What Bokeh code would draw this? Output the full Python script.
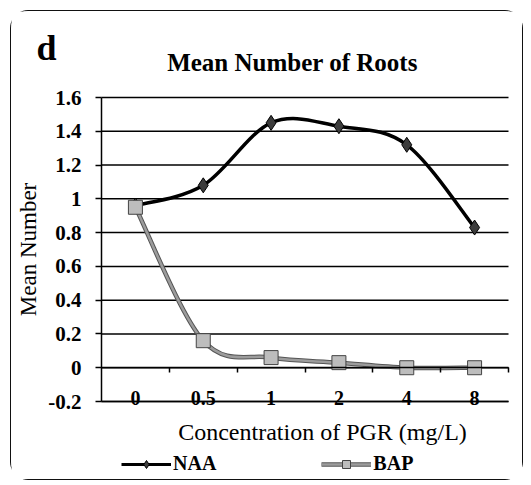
from bokeh.plotting import figure
from bokeh.models import (FixedTicker, Legend, LegendItem, InlineStyleSheet,
                          LinearAxis, ColumnDataSource, Label)
from bokeh.embed import file_html
from bokeh.resources import INLINE

# ---- data ----
categories = ["0", "0.5", "1", "2", "4", "8"]
naa = [0.96, 1.08, 1.45, 1.43, 1.32, 0.83]
bap = [0.95, 0.16, 0.06, 0.03, 0.0, 0.0]
y_ticks = [-0.2, 0.0, 0.2, 0.4, 0.6, 0.8, 1.0, 1.2, 1.4, 1.6]
y_tick_labels = ["-0.2", "0", "0.2", "0.4", "0.6", "0.8", "1", "1.2", "1.4", "1.6"]

ncat = len(categories)
xs = [i + 0.5 for i in range(ncat)]
boundaries = list(range(ncat + 1))
ymin, ymax = y_ticks[0], y_ticks[-1]

# ---- layout (page pixels) ----
FIG_X, FIG_Y, FIG_W, FIG_H = 10, 10, 513, 470
PLOT_L, PLOT_R, PLOT_T, PLOT_B = 100, 507, 96, 400
sx = (PLOT_R - PLOT_L) / ncat
sy = (PLOT_B - PLOT_T) / (ymax - ymin)
x_start = -(PLOT_L - FIG_X) / sx
x_end = ncat + (FIG_X + FIG_W - PLOT_R) / sx
y_end = ymax + (PLOT_T - FIG_Y) / sy
y_start = ymin - (FIG_Y + FIG_H - PLOT_B) / sy


def dx(px):
    return (px - PLOT_L) / sx


def dy(py):
    return ymax - (py - PLOT_T) / sy


SERIF = "Liberation Serif, DejaVu Serif, serif"

p = figure(width=FIG_W, height=FIG_H, output_backend="svg", toolbar_location=None,
           x_range=(x_start, x_end), y_range=(y_start, y_end),
           x_axis_location=None, y_axis_location=None,
           min_border_left=0, min_border_right=0, min_border_top=0, min_border_bottom=0)
p.margin = (FIG_Y, 0, 0, FIG_X)
p.stylesheets = [InlineStyleSheet(css=":host { border: 1.5px solid #111; border-radius: 18px; box-sizing: border-box; }")]
p.outline_line_color = None
p.background_fill_color = "white"
p.border_fill_color = "white"
p.xgrid.visible = False
p.ygrid.visible = False

# horizontal gridlines across the plot area
p.segment(x0=[0] * len(y_ticks), x1=[ncat] * len(y_ticks), y0=y_ticks, y1=y_ticks,
          line_color="black", line_width=1.5)

# y axis
ya = LinearAxis(fixed_location=0, bounds=(ymin, ymax), ticker=FixedTicker(ticks=y_ticks))
ya.major_label_overrides = {t: l for t, l in zip(y_ticks, y_tick_labels)}
ya.axis_line_color = "black"
ya.axis_line_width = 1.5
ya.major_tick_line_color = "black"
ya.major_tick_line_width = 1.5
ya.major_tick_in = 0
ya.major_tick_out = 6
ya.minor_tick_line_color = None
ya.major_label_standoff = 14
ya.major_label_text_font = SERIF
ya.major_label_text_font_style = "bold"
ya.major_label_text_font_size = "21px"
ya.major_label_text_color = "black"
ya.axis_label = "Mean Number"
ya.axis_label_text_font = SERIF
ya.axis_label_text_font_style = "normal"
ya.axis_label_text_font_size = "23px"
ya.axis_label_text_color = "black"
ya.axis_label_standoff = 4
p.add_layout(ya, "left")

# category axis on the bottom line
xa = LinearAxis(fixed_location=ymin, bounds=(0, ncat), ticker=FixedTicker(ticks=xs))
xa.major_label_overrides = {x: c for x, c in zip(xs, categories)}
xa.axis_line_color = "black"
xa.axis_line_width = 1.5
xa.major_tick_line_color = None
xa.minor_tick_line_color = None
xa.major_tick_out = 0
xa.major_tick_in = 0
xa.major_label_standoff = -11
xa.major_label_text_font = SERIF
xa.major_label_text_font_style = "bold"
xa.major_label_text_font_size = "20px"
xa.major_label_text_color = "black"
p.add_layout(xa, "below")

# axis crossing at zero with boundary ticks
za = LinearAxis(fixed_location=0, bounds=(0, ncat), ticker=FixedTicker(ticks=boundaries[1:]))
za.axis_line_color = "black"
za.axis_line_width = 1.5
za.major_tick_line_color = "black"
za.major_tick_line_width = 1.5
za.major_tick_in = 0
za.major_tick_out = 5
za.minor_tick_line_color = None
za.major_label_text_font_size = "1px"
za.major_label_text_color = None
p.add_layout(za, "below")


def smooth(xv, yv):
    n = len(xv)
    d = {k: [] for k in ("x0", "y0", "x1", "y1", "cx0", "cy0", "cx1", "cy1")}
    for i in range(n - 1):
        xm = xv[i - 1] if i > 0 else xv[i]
        ym = yv[i - 1] if i > 0 else yv[i]
        xp = xv[i + 2] if i + 2 < n else xv[i + 1]
        yp = yv[i + 2] if i + 2 < n else yv[i + 1]
        d["x0"].append(xv[i]); d["y0"].append(yv[i])
        d["x1"].append(xv[i + 1]); d["y1"].append(yv[i + 1])
        d["cx0"].append(xv[i] + (xv[i + 1] - xm) / 6.0)
        d["cy0"].append(yv[i] + (yv[i + 1] - ym) / 6.0)
        d["cx1"].append(xv[i + 1] - (xp - xv[i]) / 6.0)
        d["cy1"].append(yv[i + 1] - (yp - yv[i]) / 6.0)
    return ColumnDataSource(d)


# legend-only renderers (single point, drawn underneath the real markers)
naa_leg = p.line([xs[0]], [naa[0]], line_color="black", line_width=3)
naa_leg_m = p.scatter([xs[0]], [naa[0]], marker="diamond", size=11, fill_color="#3c3c3c",
                      line_color="black", line_width=1)
bap_leg_o = p.line([xs[0]], [bap[0]], line_color="#555555", line_width=4.5)
bap_leg_i = p.line([xs[0]], [bap[0]], line_color="#9c9c9c", line_width=2.5)
bap_leg_m = p.scatter([xs[0]], [bap[0]], marker="square", size=10, fill_color="#bdbdbd",
                      line_color="#444444", line_width=1)

bz = dict(x0="x0", y0="y0", x1="x1", y1="y1", cx0="cx0", cy0="cy0", cx1="cx1", cy1="cy1")
p.bezier(source=smooth(xs, naa), line_color="black", line_width=3.5, **bz)
p.scatter(xs, naa, marker="diamond", size=15, fill_color="#3c3c3c", line_color="black", line_width=1)
p.bezier(source=smooth(xs, bap), line_color="#555555", line_width=4.5, **bz)
p.bezier(source=smooth(xs, bap), line_color="#9c9c9c", line_width=2.5, **bz)
p.scatter(xs, bap, marker="square", size=14, fill_color="#bdbdbd", line_color="#444444", line_width=1)

legend = Legend(items=[LegendItem(label="NAA", renderers=[naa_leg, naa_leg_m]),
                       LegendItem(label="BAP", renderers=[bap_leg_o, bap_leg_i, bap_leg_m])],
                orientation="horizontal", location=(120 - FIG_X, FIG_Y + FIG_H - 474),
                glyph_width=50, glyph_height=20,
                label_standoff=2, spacing=105, padding=0, margin=0,
                border_line_color=None, background_fill_alpha=0,
                label_text_font=SERIF, label_text_font_style="bold", label_text_font_size="20px",
                label_text_color="black")
p.add_layout(legend, "center")

# texts (positioned by the middle of the text line)
p.add_layout(Label(x=dx(35), y=dy(46), text="d", text_font=SERIF, text_font_style="bold",
                   text_font_size="36px", text_color="black", text_baseline="middle"))
p.add_layout(Label(x=dx(291), y=dy(61), text="Mean Number of Roots", text_font=SERIF,
                   text_font_style="bold", text_font_size="25px", text_color="black",
                   text_align="center", text_baseline="middle"))
p.add_layout(Label(x=dx(321), y=dy(430), text="Concentration of PGR (mg/L)", text_font=SERIF,
                   text_font_size="24px", text_color="black", text_align="center",
                   text_baseline="middle"))

open("out.html", "w").write(file_html(p, INLINE))
